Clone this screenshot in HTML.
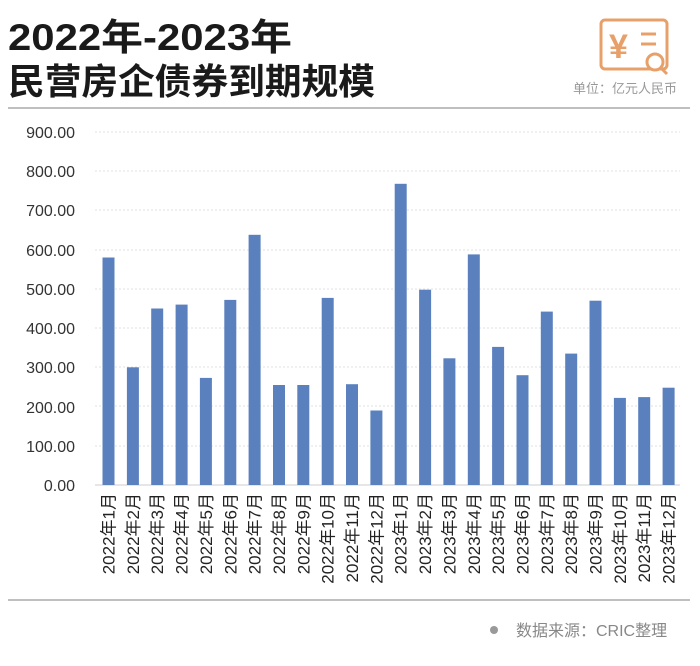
<!DOCTYPE html>
<html><head><meta charset="utf-8"><style>
body{margin:0;background:#fff;}
svg text{font-family:"Liberation Sans","Noto Sans CJK SC",sans-serif;}
</style></head><body>
<svg width="700" height="661" viewBox="0 0 700 661" xmlns="http://www.w3.org/2000/svg">
<rect width="700" height="661" fill="#fff"/>
<text x="8" y="50" font-size="37" font-weight="bold" fill="#1a1a1a" textLength="284" lengthAdjust="spacingAndGlyphs">2022年-2023年</text>
<text x="8" y="94" font-size="36" font-weight="bold" fill="#1a1a1a" textLength="367" lengthAdjust="spacingAndGlyphs">民营房企债券到期规模</text>
<g fill="none" stroke="#e8a06a" stroke-width="3">
<rect x="601" y="20" width="66" height="49" rx="4"/>
<circle cx="655" cy="62" r="8" fill="#fff"/>
<line x1="661" y1="68" x2="667" y2="74"/>
<line x1="641" y1="34" x2="656" y2="34"/><line x1="641" y1="44" x2="656" y2="44"/>
</g>
<text x="609" y="58" font-size="34" font-weight="bold" fill="#e8a06a">¥</text>
<text x="677" y="93" font-size="13" fill="#999" text-anchor="end">单位：亿元人民币</text>
<line x1="8" y1="108" x2="690" y2="108" stroke="#aaa" stroke-width="1.5"/>
<g font-size="16" fill="#333" text-anchor="end">
<text x="75" y="138">900.00</text><text x="75" y="177">800.00</text><text x="75" y="216">700.00</text>
<text x="75" y="256">600.00</text><text x="75" y="295">500.00</text><text x="75" y="334">400.00</text>
<text x="75" y="373">300.00</text><text x="75" y="413">200.00</text><text x="75" y="452">100.00</text>
<text x="75" y="491">0.00</text>
</g>
<g stroke="#e2e2e2" stroke-dasharray="2,2">
<line x1="95" x2="680" y1="132" y2="132"/><line x1="95" x2="680" y1="171" y2="171"/>
<line x1="95" x2="680" y1="210" y2="210"/><line x1="95" x2="680" y1="250" y2="250"/>
<line x1="95" x2="680" y1="289" y2="289"/><line x1="95" x2="680" y1="328" y2="328"/>
<line x1="95" x2="680" y1="367" y2="367"/><line x1="95" x2="680" y1="406" y2="406"/>
<line x1="95" x2="680" y1="446" y2="446"/>
</g>
<line x1="95" x2="680" y1="485" y2="485" stroke="#ccc"/>
<g fill="#5b80be">
<rect x="102.5" y="257.5" width="12" height="227.5"/>
<rect x="126.9" y="367.3" width="12" height="117.7"/>
<rect x="151.2" y="308.5" width="12" height="176.5"/>
<rect x="175.6" y="304.6" width="12" height="180.4"/>
<rect x="199.9" y="377.9" width="12" height="107.1"/>
<rect x="224.3" y="299.9" width="12" height="185.1"/>
<rect x="248.6" y="234.8" width="12" height="250.2"/>
<rect x="273.0" y="385" width="12" height="100"/>
<rect x="297.3" y="385" width="12" height="100"/>
<rect x="321.7" y="297.9" width="12" height="187.1"/>
<rect x="346.0" y="384.2" width="12" height="100.8"/>
<rect x="370.4" y="410.5" width="12" height="74.5"/>
<rect x="394.7" y="183.8" width="12" height="301.2"/>
<rect x="419.1" y="289.7" width="12" height="195.3"/>
<rect x="443.4" y="358.3" width="12" height="126.7"/>
<rect x="467.8" y="254.4" width="12" height="230.6"/>
<rect x="492.1" y="346.9" width="12" height="138.1"/>
<rect x="516.5" y="375.2" width="12" height="109.8"/>
<rect x="540.8" y="311.6" width="12" height="173.4"/>
<rect x="565.2" y="353.6" width="12" height="131.4"/>
<rect x="589.5" y="300.7" width="12" height="184.3"/>
<rect x="613.9" y="397.9" width="12" height="87.1"/>
<rect x="638.2" y="397.1" width="12" height="87.9"/>
<rect x="662.6" y="387.7" width="12" height="97.3"/>
</g>
<g font-size="17" fill="#222" text-anchor="end">
<text transform="translate(114.5,493) rotate(-90)">2022年1月</text>
<text transform="translate(138.9,493) rotate(-90)">2022年2月</text>
<text transform="translate(163.2,493) rotate(-90)">2022年3月</text>
<text transform="translate(187.6,493) rotate(-90)">2022年4月</text>
<text transform="translate(211.9,493) rotate(-90)">2022年5月</text>
<text transform="translate(236.3,493) rotate(-90)">2022年6月</text>
<text transform="translate(260.6,493) rotate(-90)">2022年7月</text>
<text transform="translate(285.0,493) rotate(-90)">2022年8月</text>
<text transform="translate(309.3,493) rotate(-90)">2022年9月</text>
<text transform="translate(333.7,493) rotate(-90)">2022年10月</text>
<text transform="translate(358.0,493) rotate(-90)">2022年11月</text>
<text transform="translate(382.4,493) rotate(-90)">2022年12月</text>
<text transform="translate(406.7,493) rotate(-90)">2023年1月</text>
<text transform="translate(431.1,493) rotate(-90)">2023年2月</text>
<text transform="translate(455.4,493) rotate(-90)">2023年3月</text>
<text transform="translate(479.8,493) rotate(-90)">2023年4月</text>
<text transform="translate(504.1,493) rotate(-90)">2023年5月</text>
<text transform="translate(528.5,493) rotate(-90)">2023年6月</text>
<text transform="translate(552.8,493) rotate(-90)">2023年7月</text>
<text transform="translate(577.2,493) rotate(-90)">2023年8月</text>
<text transform="translate(601.5,493) rotate(-90)">2023年9月</text>
<text transform="translate(625.9,493) rotate(-90)">2023年10月</text>
<text transform="translate(650.2,493) rotate(-90)">2023年11月</text>
<text transform="translate(674.6,493) rotate(-90)">2023年12月</text>
</g>
<line x1="8" y1="600" x2="690" y2="600" stroke="#aaa" stroke-width="1.5"/>
<circle cx="494" cy="630" r="4" fill="#999"/>
<text x="516" y="636" font-size="16" fill="#888">数据来源：CRIC整理</text>
</svg>
</body></html>
